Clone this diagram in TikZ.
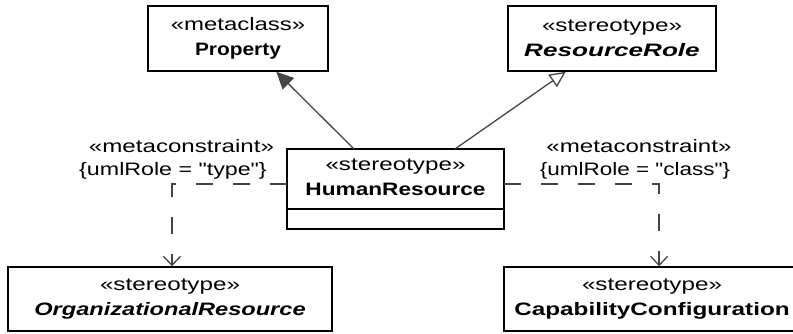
\documentclass[tikz,border=0pt]{standalone}
\usepackage{fontspec}
\setmainfont{Liberation Sans}
\newfontfamily\plainsans{Liberation Sans}
\usepackage{graphicx}
\usetikzlibrary{arrows.meta,calc}
\newcommand{\sx}[2]{\scalebox{#1}[1]{#2}}
\definecolor{linegray}{HTML}{454545}
\begin{document}
\begin{tikzpicture}[x=1pt,y=-1pt,
  box/.style={draw=black, line width=1.5pt, align=center, inner sep=0pt,
    font=\fontsize{18}{24.5}\selectfont},
  lbl/.style={anchor=base, inner sep=0pt, font=\plainsans\fontsize{18}{22}\selectfont},
  inhfill/.style={draw=linegray, line width=1.3pt,
    -{Triangle[length=17pt,width=16pt,fill=linegray]}},
  inhopen/.style={draw=linegray, line width=1.3pt,
    -{Triangle[open,length=16pt,width=15pt,fill=white]}},
  dep/.style={draw=linegray, line width=1.3pt, dash pattern=on 17pt off 20pt,
    -{Straight Barb[length=9pt,width=17pt,line width=1.3pt]}}]
\useasboundingbox (0,0) rectangle (793,333);

\node[box, minimum width=180pt, minimum height=65pt] (prop) at (238,38.5)
  {\sx{1.33}{«metaclass»}\\\sx{1.16}{\bfseries Property}};
\node[box, minimum width=208pt, minimum height=65pt] (rr) at (612,38.5)
  {\sx{1.345}{«stereotype»}\\\sx{1.45}{\bfseries\itshape ResourceRole}};
\node[box, outer sep=0pt, minimum width=217pt, minimum height=60pt] (hr) at (395.5,179)
  {\sx{1.345}{«stereotype»}\\\sx{1.26}{\bfseries HumanResource}\vphantom{p}};
\node[box, outer sep=0pt, minimum width=217pt, minimum height=20pt, anchor=north] (hrlow) at (hr.south) {};
\node[box, minimum width=324pt, minimum height=64pt] (org) at (170,299)
  {\sx{1.345}{«stereotype»}\\\sx{1.31}{\bfseries\itshape OrganizationalResource}};
\node[box, minimum width=296pt, minimum height=64pt] (cap) at (652,299)
  {\sx{1.345}{«stereotype»}\\\sx{1.35}{\bfseries CapabilityConfiguration}};

\node[lbl] (mcl) at (181.5,152) {\sx{1.34}{«metaconstraint»}};
\node[lbl] (rl) at (173,175) {\sx{1.29}{\{umlRole = "type"\}}};
\node[lbl] (mcr) at (639,152) {\sx{1.34}{«metaconstraint»}};
\node[lbl] (rc) at (635,175) {\sx{1.25}{\{umlRole = "class"\}}};

\draw[inhfill] ($(hr.north west)!0.309!(hr.north east)$) -- ($(prop.south west)!0.711!(prop.south east)$);
\draw[inhopen] ($(hr.north west)!0.774!(hr.north east)$) -- ($(rr.south west)!0.279!(rr.south east)$);
\draw[dep] ([yshift=-5pt]hr.west) -| ($(org.north west)!0.506!(org.north east)$);
\draw[dep] ([yshift=-5pt]hr.east) -| ($(cap.north west)!0.524!(cap.north east)$);
\end{tikzpicture}
\end{document}
